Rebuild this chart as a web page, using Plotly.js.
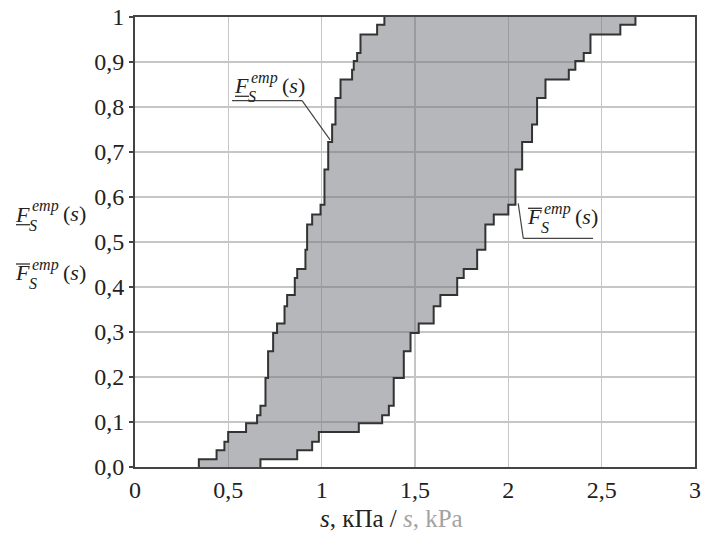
<!DOCTYPE html>
<html>
<head>
<meta charset="utf-8">
<script src="https://cdn.plot.ly/plotly-3.0.1.min.js"></script>
<style>html,body{margin:0;padding:0;background:#fff;}#chart{width:703px;height:537px;}</style>
</head>
<body>
<div id="chart"></div>
<script>
// ---- data ----
// cumulative probability levels reached at each step (shared by both bounds)
const levels = [0.017, 0.037, 0.056, 0.078, 0.097, 0.115, 0.136, 0.198, 0.257, 0.298,
                0.319, 0.357, 0.382, 0.420, 0.440, 0.483, 0.539, 0.561, 0.583, 0.661,
                0.722, 0.761, 0.820, 0.861, 0.883, 0.902, 0.920, 0.961, 0.983, 1.000];
// s (kPa) where the left (lower-s) bound jumps to each level
const lowerBoundS = [0.342, 0.437, 0.479, 0.499, 0.595, 0.654, 0.672, 0.699, 0.713, 0.740,
                     0.761, 0.801, 0.815, 0.856, 0.869, 0.913, 0.922, 0.949, 0.994, 1.015,
                     1.035, 1.056, 1.074, 1.101, 1.163, 1.172, 1.190, 1.208, 1.297, 1.336];
// s (kPa) where the right (upper-s) bound jumps to each level
const upperBoundS = [0.672, 0.869, 0.949, 0.985, 1.199, 1.324, 1.360, 1.386, 1.440, 1.476,
                     1.520, 1.600, 1.636, 1.726, 1.761, 1.833, 1.877, 1.922, 2.000, 2.038,
                     2.074, 2.127, 2.154, 2.199, 2.324, 2.359, 2.404, 2.440, 2.600, 2.681];
const xTickVals = [0, 0.5, 1, 1.5, 2, 2.5, 3];
const xTickText = ['0', '0,5', '1', '1,5', '2', '2,5', '3'];
const yTickVals = [0, 0.1, 0.2, 0.3, 0.4, 0.5, 0.6, 0.7, 0.8, 0.9, 1];
const yTickText = ['0,0', '0,1', '0,2', '0,3', '0,4', '0,5', '0,6', '0,7', '0,8', '0,9', '1'];

// ---- build step curves ----
function stepCurve(sVals) {
  const x = [sVals[0]], y = [0];
  for (let i = 0; i < sVals.length; i++) { x.push(sVals[i]); y.push(levels[i]); }
  return {x, y};
}
const upper = stepCurve(upperBoundS);
const lower = stepCurve(lowerBoundS);

const lineStyle = {color: '#333333', width: 2, shape: 'hv'};
const traces = [
  {type: 'scatter', mode: 'lines', x: upper.x, y: upper.y, line: lineStyle, hoverinfo: 'skip', showlegend: false},
  {type: 'scatter', mode: 'lines', x: lower.x, y: lower.y, line: lineStyle, hoverinfo: 'skip', showlegend: false,
   fill: 'tonexty', fillcolor: 'rgba(110,112,118,0.5)'}
];

// ---- layout helpers (pixel -> paper) ----
const M = {l: 135, r: 8, t: 17, b: 70};
const W = 703 - M.l - M.r, H = 537 - M.t - M.b;
const FONT = 'Liberation Serif';
const TXT = '#222222';
function px(xp) { return (xp - M.l) / W; }
function py(yp) { return (M.t + H - yp) / H; }
function piece(text, inkLeft, baseline, size, color) {
  return {xref: 'paper', yref: 'paper', x: px(inkLeft - 2), y: py(baseline - 0.3375 * size),
          xanchor: 'left', yanchor: 'middle', text: text, showarrow: false,
          font: {family: FONT, size: size, color: color || TXT}};
}
const annotations = [];
const shapes = [];
function fLabel(left, base, bar) {
  annotations.push(piece('<i>F</i>', left, base, 22));
  annotations.push(piece('<i>emp</i>', left + 17, base - 10, 16));
  annotations.push(piece('<i>S</i>', left + 14, base + 9, 16));
  annotations.push(piece('(<i>s</i>)', left + 48, base - 0.5, 22));
  const by = bar === 'under' ? base + 3 : base - 16;
  shapes.push({type: 'line', xref: 'paper', yref: 'paper', x0: px(left + 1), x1: px(left + 15),
               y0: py(by), y1: py(by), line: {color: '#333', width: 1.3}});
}
// y-axis side labels
fLabel(15, 221.7, 'under');
fLabel(15, 280, 'over');
// in-plot labels
fLabel(234, 93.3, 'under');
fLabel(527, 224.3, 'over');

// leader lines for in-plot labels (data coordinates)
const leader1 = {x: [0.520, 0.895, 1.045], y: [0.814, 0.814, 0.727]};
const leader2 = {x: [2.053, 2.080, 2.454], y: [0.586, 0.508, 0.508]};
[leader1, leader2].forEach(function (ld) {
  for (let i = 0; i < ld.x.length - 1; i++) {
    shapes.push({type: 'line', xref: 'x', yref: 'y', x0: ld.x[i], y0: ld.y[i], x1: ld.x[i + 1], y1: ld.y[i + 1],
                 line: {color: '#444', width: 1.2}});
  }
});

// x-axis title
annotations.push({xref: 'paper', yref: 'paper', x: px(391), y: py(518), xanchor: 'center', yanchor: 'middle',
  showarrow: false, font: {family: FONT, size: 25, color: TXT},
  text: '<i>s</i>, кПа / <span style="color:#a3a3a3"><i>s</i>, kPa</span>'});

const axisCommon = {
  showline: true, mirror: true, linecolor: '#444444', linewidth: 2,
  showgrid: true, gridcolor: '#c6c6c6', gridwidth: 1.5, zeroline: false,
  tickfont: {family: FONT, size: 24, color: TXT}, tickmode: 'array', fixedrange: true
};
const layout = {
  width: 703, height: 537, margin: M,
  font: {family: FONT},
  paper_bgcolor: '#ffffff', plot_bgcolor: '#ffffff',
  showlegend: false,
  xaxis: Object.assign({}, axisCommon, {range: [0, 3], tickvals: xTickVals, ticktext: xTickText, ticks: ''}),
  yaxis: Object.assign({}, axisCommon, {range: [0, 1], tickvals: yTickVals, ticktext: yTickText,
                                        ticks: 'outside', ticklen: 4, tickwidth: 1.5, tickcolor: '#444444'}),
  annotations: annotations,
  shapes: shapes
};
Plotly.newPlot('chart', traces, layout, {displayModeBar: false, staticPlot: true});
</script>
</body>
</html>
